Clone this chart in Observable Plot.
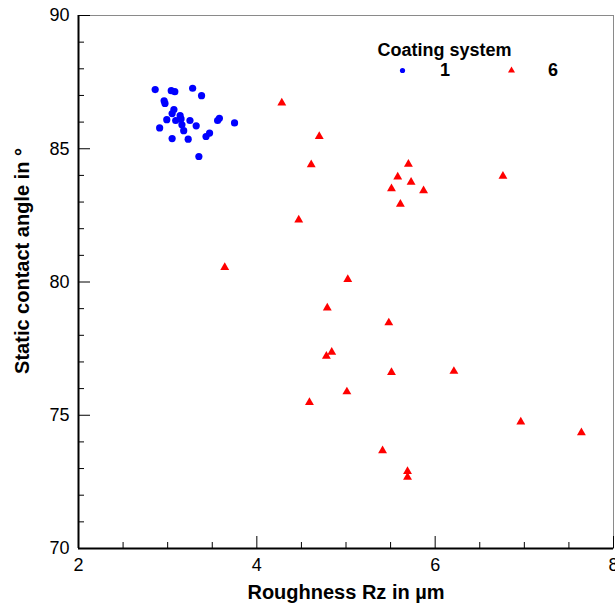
<!DOCTYPE html>
<html>
<head>
<meta charset="utf-8">
<script src="https://cdn.jsdelivr.net/npm/d3@7"></script>
<script src="https://cdn.jsdelivr.net/npm/@observablehq/plot@0.6"></script>
<style>
  html, body { margin: 0; padding: 0; background: #fff; }
  #chart { width: 615px; height: 604px; overflow: hidden; }
</style>
</head>
<body>
<div id="chart"></div>
<script>
// Coating system 1 (blue circles): roughness Rz [µm], static contact angle [°]
const sys1X = [2.86, 3.04, 3.08, 3.28, 3.38, 2.96, 2.97, 3.07, 3.05, 3.14, 2.99, 3.09, 3.15, 3.25, 3.16, 3.32, 3.58, 3.56, 3.75, 2.91, 3.18, 3.47, 3.43, 3.05, 3.23, 3.35];
const sys1Y = [87.22, 87.18, 87.14, 87.27, 86.99, 86.80, 86.70, 86.47, 86.32, 86.24, 86.09, 86.06, 86.12, 86.06, 85.90, 85.86, 86.14, 86.06, 85.97, 85.78, 85.68, 85.59, 85.46, 85.38, 85.36, 84.71];
// Coating system 6 (red triangles)
const sys6X = [4.28, 4.70, 4.61, 5.70, 5.58, 5.73, 5.51, 5.87, 5.61, 4.47, 3.64, 5.02, 6.76, 4.79, 5.48, 4.84, 4.78, 5.51, 6.21, 5.01, 4.59, 5.41, 5.69, 5.69, 6.96, 7.64];
const sys6Y = [86.72, 85.46, 84.40, 84.42, 83.94, 83.75, 83.50, 83.43, 82.92, 82.33, 80.55, 80.10, 83.97, 79.03, 78.47, 77.37, 77.22, 76.61, 76.65, 75.88, 75.48, 73.67, 72.89, 72.68, 74.75, 74.35];

const xMajor = [2, 4, 6, 8];
const xMinor = [2.5, 3, 3.5, 4.5, 5, 5.5, 6.5, 7, 7.5];
const yMajor = [70, 75, 80, 85, 90];
const yMinor = [71, 72, 73, 74, 76, 77, 78, 79, 81, 82, 83, 84, 86, 87, 88, 89];

const xTitle = "Roughness Rz in µm";
const yTitle = "Static contact angle in °";
const legendTitle = "Coating system";
const seriesNames = ["1", "6"];
const seriesColors = ["#0000ff", "#ff0000"];

const s1 = sys1X.map((x, i) => ({x, y: sys1Y[i]}));
const s6 = sys6X.map((x, i) => ({x, y: sys6Y[i]}));

const W = 615, H = 604;
const mL = 78, mR = 2, mT = 15, mB = 56;
const innerW = W - mL - mR, innerH = H - mT - mB;
const font = "'Liberation Sans', Arial, Helvetica, sans-serif";

const plot = Plot.plot({
  width: W,
  height: H,
  marginLeft: mL,
  marginRight: mR,
  marginTop: mT,
  marginBottom: mB,
  style: {fontFamily: font, fontSize: "18px", background: "#fff", color: "#000", overflow: "visible"},
  x: {domain: [2, 8], ticks: xMajor, tickSize: 0, tickPadding: 10, label: null, tickFormat: d => String(d)},
  y: {domain: [70, 90], ticks: yMajor, tickSize: 0, tickPadding: 9, label: null, tickFormat: d => String(d)},
  marks: [
    Plot.frame({stroke: "#8a8a8a", strokeWidth: 1}),
    // inward ticks
    Plot.tickX(xMajor, {x: d => d, insetTop: innerH - 12, stroke: "#000", strokeWidth: 1}),
    Plot.tickX(xMinor, {x: d => d, insetTop: innerH - 6, stroke: "#000", strokeWidth: 1}),
    Plot.tickY(yMajor, {y: d => d, insetRight: innerW - 12, stroke: "#000", strokeWidth: 1}),
    Plot.tickY(yMinor, {y: d => d, insetRight: innerW - 6, stroke: "#000", strokeWidth: 1}),
    // axis lines
    Plot.ruleX([2], {stroke: "#000", strokeWidth: 2}),
    Plot.ruleY([70], {stroke: "#000", strokeWidth: 2}),
    // data
    Plot.dot(s1, {x: "x", y: "y", r: 3.6, fill: seriesColors[0], stroke: "none", symbol: "circle"}),
    Plot.dot(s6, {x: "x", y: "y", r: 3.3, fill: seriesColors[1], stroke: "none", symbol: "triangle"}),
    // axis titles
    Plot.text([xTitle], {frameAnchor: "bottom", dy: 44, textAnchor: "middle", lineAnchor: "middle", fontWeight: "bold", fontSize: 20, fill: "#000"}),
    Plot.text([yTitle], {frameAnchor: "left", dx: -56, dy: -21, textAnchor: "middle", lineAnchor: "middle", rotate: -90, fontWeight: "bold", fontSize: 20, fill: "#000"}),
    // legend
    Plot.text([legendTitle], {frameAnchor: "top-left", dx: 299, dy: 35, textAnchor: "start", lineAnchor: "middle", fontWeight: "bold", fontSize: 18, fill: "#000"}),
    Plot.dot([seriesNames[0]], {frameAnchor: "top-left", dx: 324, dy: 55, r: 2.6, fill: seriesColors[0], symbol: "circle"}),
    Plot.text([seriesNames[0]], {frameAnchor: "top-left", dx: 366.5, dy: 55, textAnchor: "middle", lineAnchor: "middle", fontWeight: "bold", fontSize: 18, fill: "#000"}),
    Plot.dot([seriesNames[1]], {frameAnchor: "top-left", dx: 433, dy: 55, r: 2.6, fill: seriesColors[1], symbol: "triangle"}),
    Plot.text([seriesNames[1]], {frameAnchor: "top-left", dx: 474.5, dy: 55, textAnchor: "middle", lineAnchor: "middle", fontWeight: "bold", fontSize: 18, fill: "#000"})
  ]
});
document.getElementById("chart").appendChild(plot);
</script>
</body>
</html>
